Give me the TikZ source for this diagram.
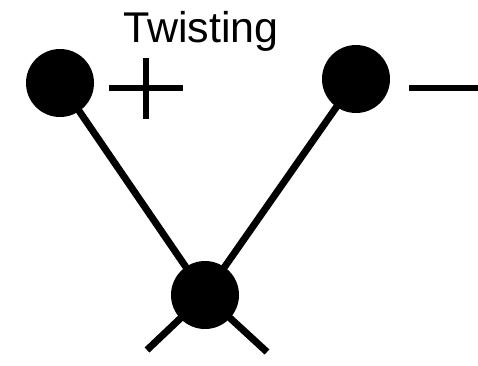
\documentclass[tikz,border=0pt]{standalone}
\usepackage{fontspec}
\setmainfont{Liberation Sans}

\tikzset{
  ball/.style={circle, fill=black, draw=none, minimum size=68pt, inner sep=0pt},
  bond/.style={line width=7pt},
  sign/.style={line width=6.5pt}
}

\begin{document}
\begin{tikzpicture}[x=1pt, y=-1pt, >=latex]
        % ==== FRAME ====
        \useasboundingbox (0,0) rectangle (478,365);

        % ==== DEFINITIONS ====
        \def\signY{88} % height of the + and - signs

        % ==== TITLE ====
        \node[anchor=base, inner sep=0pt, font=\fontsize{43}{48}\selectfont] (title) at (201,42) {Twisting};

        % ==== FREE ENDS ====
        \coordinate (legL) at (147,350);
        \coordinate (legR) at (267,352);
        \coordinate (plusL) at (109,\signY);
        \coordinate (plusR) at (183,\signY);
        \coordinate (plusT) at (146,58);
        \coordinate (plusB) at (146,119);
        \coordinate (minusL) at (409,\signY);
        \coordinate (minusR) at (478,\signY);

        % ==== BALLS ====
        \node[ball] (left) at (60,83) {};
        \node[ball] (right) at (356,79) {};
        \node[ball] (mid) at (205,295) {};

        % ==== BONDS ====
        \draw[bond] (left.center) -- (mid.center);
        \draw[bond] (right.center) -- (mid.center);
        \draw[bond] (mid.center) -- (legL);
        \draw[bond] (mid.center) -- (legR);

        % ==== SIGNS ====
        \draw[sign] (plusL) -- (plusR);
        \draw[sign] (plusT) -- (plusB);
        \draw[sign] (minusL) -- (minusR);
\end{tikzpicture}
\end{document}
